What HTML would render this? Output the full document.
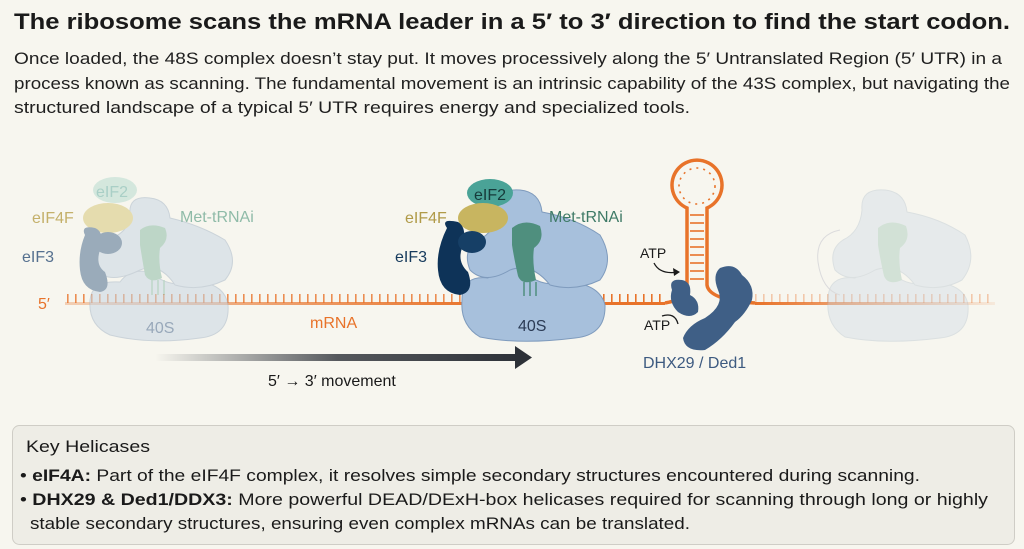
<!DOCTYPE html>
<html><head><meta charset="utf-8"><style>
html,body{margin:0;padding:0;background:#f7f6ef;}
svg{display:block}
text{font-family:"Liberation Sans",sans-serif;}
</style></head><body>
<svg width="1024" height="549" viewBox="0 0 1024 549" xmlns="http://www.w3.org/2000/svg">
<defs>
<linearGradient id="ar" x1="0" x2="1"><stop offset="0" stop-color="#2d3138" stop-opacity="0"/><stop offset="0.5" stop-color="#2d3138" stop-opacity="0.8"/><stop offset="1" stop-color="#2d3138"/></linearGradient>
<linearGradient id="rnaL" x1="0" x2="1"><stop offset="0" stop-color="#e8732a" stop-opacity="0.3"/><stop offset="1" stop-color="#e8732a"/></linearGradient>
<linearGradient id="rnaR" x1="0" x2="1"><stop offset="0" stop-color="#e8732a"/><stop offset="1" stop-color="#e8732a" stop-opacity="0.1"/></linearGradient>
<pattern id="tick" width="8" height="12" patternUnits="userSpaceOnUse"><rect x="3" y="0" width="1.6" height="12" fill="#e8732a"/></pattern>
</defs>
<rect width="1024" height="549" fill="#f7f6ef"/>
<text x="14" y="29" font-size="22" font-weight="bold" fill="#1a1a1a" textLength="996" lengthAdjust="spacingAndGlyphs">The ribosome scans the mRNA leader in a 5′ to 3′ direction to find the start codon.</text>
<g font-size="16.5" fill="#1f1f1f">
<text x="14" y="64" textLength="988" lengthAdjust="spacingAndGlyphs">Once loaded, the 48S complex doesn’t stay put. It moves processively along the 5′ Untranslated Region (5′ UTR) in a</text>
<text x="14" y="89" textLength="996" lengthAdjust="spacingAndGlyphs">process known as scanning. The fundamental movement is an intrinsic capability of the 43S complex, but navigating the</text>
<text x="14" y="113" textLength="676" lengthAdjust="spacingAndGlyphs">structured landscape of a typical 5′ UTR requires energy and specialized tools.</text>
</g>

<!-- mRNA -->
<rect x="65" y="302" width="420" height="3" fill="url(#rnaL)"/>
<rect x="65" y="294" width="420" height="9" fill="url(#tick)" opacity="0.8"/>
<rect x="485" y="302" width="180" height="3" fill="#e8732a"/>
<rect x="485" y="294" width="180" height="9" fill="url(#tick)"/>
<rect x="755" y="302" width="240" height="3" fill="url(#rnaR)"/>
<rect x="755" y="294" width="240" height="9" fill="url(#tick)" opacity="0.35"/>
<!-- hairpin -->
<path d="M665 303 Q685 300 687 285 L687 208 A25 25 0 1 1 707 208 L707 285 Q709 300 755 303" fill="none" stroke="#e8732a" stroke-width="3.5"/>
<g stroke="#e8732a" stroke-width="1.6">
<line x1="690" y1="215" x2="704" y2="215"/><line x1="690" y1="223" x2="704" y2="223"/><line x1="690" y1="231" x2="704" y2="231"/><line x1="690" y1="239" x2="704" y2="239"/><line x1="690" y1="247" x2="704" y2="247"/><line x1="690" y1="255" x2="704" y2="255"/><line x1="690" y1="263" x2="704" y2="263"/><line x1="690" y1="271" x2="704" y2="271"/><line x1="690" y1="279" x2="704" y2="279"/>
</g>
<circle cx="697" cy="186" r="18" fill="none" stroke="#e8732a" stroke-width="1.6" stroke-dasharray="2 5"/>

<!-- faded ribosome 1 -->
<g opacity="0.55">
<path d="M90 300 Q92 280 120 282 Q130 268 150 272 Q170 290 200 282 Q225 285 228 305 Q230 335 200 338 Q150 345 110 335 Q88 325 90 300Z" fill="#c8d6e4" stroke="#a8b8c8"/>
<path d="M130 215 Q128 195 150 198 Q168 200 170 218 Q200 225 225 240 Q240 262 225 280 Q200 292 175 285 Q160 262 140 270 Q110 285 95 270 Q85 250 105 240 Q128 235 130 215Z" fill="#c8d6e4" stroke="#a8b8c8"/>
<ellipse cx="115" cy="190" rx="22" ry="13" fill="#b9dcd0"/>
<ellipse cx="108" cy="218" rx="25" ry="15" fill="#d8c77a"/>
<path d="M85 235 Q80 225 95 228 Q105 232 100 250 Q95 265 105 272 Q112 290 100 292 Q82 290 80 270 Q78 252 85 235Z" fill="#4f6f8f"/>
<ellipse cx="108" cy="243" rx="14" ry="11" fill="#4f6f8f"/>
<path d="M140 230 Q150 222 165 228 Q170 240 160 248 Q158 262 162 278 Q150 284 145 275 Q142 258 140 245Z" fill="#8fbda8"/>
<g stroke="#8fbda8" stroke-width="1.5"><line x1="152" y1="280" x2="152" y2="295"/><line x1="158" y1="280" x2="158" y2="295"/><line x1="164" y1="280" x2="164" y2="295"/></g>
</g>
<text x="96" y="197" font-size="16" fill="#a9cfc6">eIF2</text>
<text x="32" y="223" font-size="16" fill="#c4b06a">eIF4F</text>
<text x="22" y="262" font-size="16" fill="#55708f">eIF3</text>
<text x="180" y="222" font-size="16" fill="#8fbba8">Met-tRNAi</text>
<text x="38" y="309" font-size="16" fill="#e8732a">5′</text>
<text x="146" y="333" font-size="16" fill="#98a8ba">40S</text>
<text x="310" y="328" font-size="16" fill="#e8732a">mRNA</text>

<!-- ribosome 2 -->
<path d="M462 300 Q462 275 488 278 Q500 262 520 268 Q540 290 570 282 Q600 285 605 305 Q606 335 575 338 Q520 345 480 337 Q460 325 462 300Z" fill="#a7c0dc" stroke="#7f9bbd"/>
<path d="M498 210 Q496 188 520 190 Q540 192 542 212 Q575 218 600 235 Q615 260 600 280 Q575 292 550 285 Q532 262 510 270 Q485 285 470 270 Q462 250 478 240 Q496 232 498 210Z" fill="#a7c0dc" stroke="#7f9bbd"/>
<ellipse cx="490" cy="193" rx="23" ry="14" fill="#4aa397"/>
<ellipse cx="483" cy="218" rx="25" ry="15" fill="#c8b560"/>
<path d="M447 228 Q440 218 458 222 Q468 228 462 248 Q457 262 468 272 Q475 292 460 295 Q440 293 438 270 Q436 250 447 228Z" fill="#0e3358"/>
<ellipse cx="472" cy="242" rx="14" ry="11" fill="#163f66"/>
<path d="M512 228 Q524 218 540 226 Q545 240 534 248 Q532 262 536 280 Q522 286 518 276 Q514 258 512 245Z" fill="#4f8f7e"/>
<g stroke="#4f8f7e" stroke-width="1.5"><line x1="524" y1="282" x2="524" y2="296"/><line x1="530" y1="282" x2="530" y2="296"/><line x1="536" y1="282" x2="536" y2="296"/></g>
<text x="474" y="200" font-size="16" fill="#163a3a">eIF2</text>
<text x="405" y="223" font-size="16" fill="#b09a48">eIF4F</text>
<text x="395" y="262" font-size="16" fill="#163a5c">eIF3</text>
<text x="549" y="222" font-size="16" fill="#3e7a66">Met-tRNAi</text>
<text x="518" y="331" font-size="16" fill="#2b3b55">40S</text>

<!-- DHX29 -->
<path d="M672 290 Q668 278 682 280 Q692 282 690 295 Q700 300 698 312 Q690 320 678 312 Q668 302 672 290Z" fill="#3f5f86"/>
<path d="M720 268 Q735 262 742 275 Q755 285 752 300 Q745 315 735 322 Q722 340 705 350 Q685 352 683 338 Q688 325 705 318 Q725 305 718 290 Q712 275 720 268Z" fill="#3f5f86"/>
<text x="640" y="258" font-size="14" fill="#1a1a1a">ATP</text>
<path d="M654 263 Q660 275 678 272" fill="none" stroke="#1a1a1a" stroke-width="1.3"/>
<path d="M680 272 L673 268 L674 276Z" fill="#1a1a1a"/>
<text x="644" y="330" font-size="14" fill="#1a1a1a">ATP</text>
<path d="M662 316 Q675 312 678 324" fill="none" stroke="#1a1a1a" stroke-width="1.3"/>
<text x="643" y="368" font-size="16" fill="#3d5a80">DHX29 / Ded1</text>

<!-- ghost ribosome -->
<g opacity="0.35">
<path d="M828 300 Q828 275 855 278 Q868 262 888 268 Q905 290 935 282 Q965 285 968 305 Q970 335 940 338 Q885 345 845 337 Q826 325 828 300Z" fill="#c8d6e4" stroke="#a8b8c8"/>
<path d="M862 210 Q860 188 885 190 Q905 192 907 212 Q940 218 965 235 Q978 260 962 280 Q940 292 915 285 Q898 262 875 270 Q850 285 835 270 Q828 250 843 240 Q860 232 862 210Z" fill="#c8d6e4" stroke="#a8b8c8"/>
<path d="M878 228 Q890 218 906 226 Q911 240 900 248 Q898 262 902 280 Q888 286 884 276 Q880 258 878 245Z" fill="#8fbda8"/>
<path d="M840 230 Q815 235 818 262 Q822 290 840 295" fill="none" stroke="#aab" stroke-width="1"/>
</g>

<!-- movement arrow -->
<rect x="155" y="354" width="365" height="7" fill="url(#ar)"/>
<path d="M515 346 L532 357.5 L515 369Z" fill="#2d3138"/>
<text x="268" y="386" font-size="16" fill="#1a1a1a">5′ → 3′ movement</text>

<!-- key box -->
<rect x="12.5" y="425.5" width="1002" height="119" rx="7" fill="#eeede6" stroke="#cfcdc6"/>
<text x="26" y="452" font-size="16.5" fill="#1a1a1a" textLength="124" lengthAdjust="spacingAndGlyphs">Key Helicases</text>
<g font-size="16.5" fill="#1a1a1a">
<text x="20" y="481" textLength="900" lengthAdjust="spacingAndGlyphs">• <tspan font-weight="bold">eIF4A:</tspan> Part of the eIF4F complex, it resolves simple secondary structures encountered during scanning.</text>
<text x="20" y="505" textLength="968" lengthAdjust="spacingAndGlyphs">• <tspan font-weight="bold">DHX29 &amp; Ded1/DDX3:</tspan> More powerful DEAD/DExH-box helicases required for scanning through long or highly</text>
<text x="30" y="529" textLength="660" lengthAdjust="spacingAndGlyphs">stable secondary structures, ensuring even complex mRNAs can be translated.</text>
</g>
</svg>
</body></html>
